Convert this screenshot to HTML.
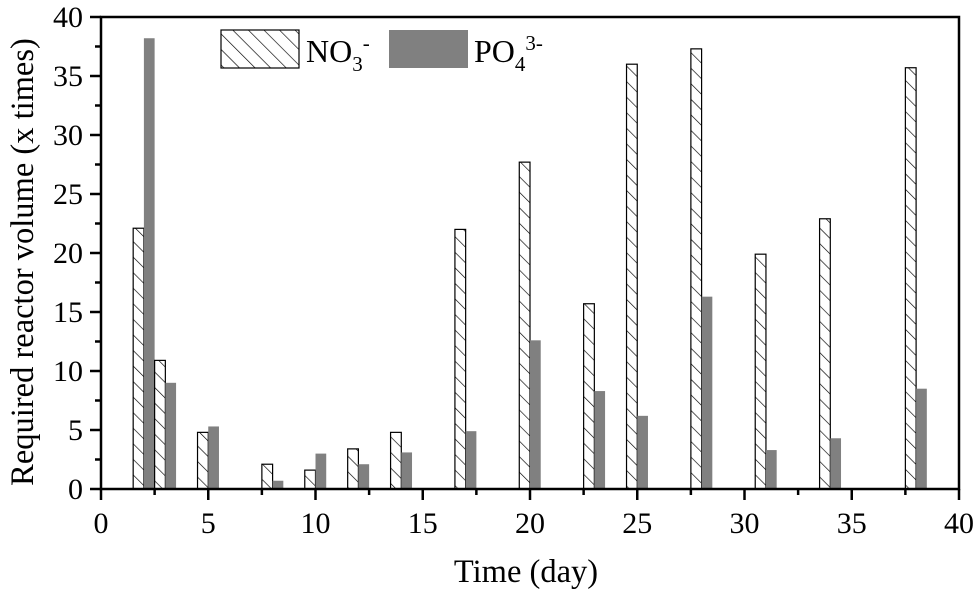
<!DOCTYPE html>
<html><head><meta charset="utf-8"><style>
html,body{margin:0;padding:0;background:#fff}
svg{display:block;font-family:"Liberation Serif",serif}
</style></head><body>
<svg id="chart" width="980" height="592" viewBox="0 0 980 592">
<defs>
<pattern id="hatch" patternUnits="userSpaceOnUse" width="11" height="11" patternTransform="rotate(-45)">
<line x1="0" y1="0" x2="0" y2="11" stroke="#000" stroke-width="1.3"/>
</pattern>
</defs>
<g id="bars"></g>
<g id="axes"></g>
<g>
<rect x="221" y="30" width="78" height="38" fill="url(#hatch)" stroke="#000" stroke-width="1.2"/>
<text x="306" y="62" font-size="32">NO<tspan font-size="21" dy="9">3</tspan><tspan font-size="21" dy="-21">-</tspan></text>
<rect x="389" y="30" width="79" height="38" fill="#808080"/>
<text x="474" y="62" font-size="32">PO<tspan font-size="21" dy="9">4</tspan><tspan font-size="21" dy="-21">3-</tspan></text>
</g>
<text x="526" y="582" text-anchor="middle" font-size="32.5">Time (day)</text>
<text transform="translate(33,262) rotate(-90)" text-anchor="middle" font-size="32.5">Required reactor volume (x times)</text>
</svg>
<script>
const days = [2, 3, 5, 8, 10, 12, 14, 17, 20, 23, 25, 28, 31, 34, 38];
const no3 = [22.1, 10.9, 4.8, 2.1, 1.6, 3.4, 4.8, 22.0, 27.7, 15.7, 36.0, 37.3, 19.9, 22.9, 35.7];
const po4 = [38.2, 9.0, 5.3, 0.7, 3.0, 2.1, 3.1, 4.9, 12.6, 8.3, 6.2, 16.3, 3.3, 4.3, 8.5];
const xTicks = [0, 5, 10, 15, 20, 25, 30, 35, 40];
const yTicks = [0, 5, 10, 15, 20, 25, 30, 35, 40];

const L = 101, R = 959, T = 17, B = 489;
const xs = d => L + (d / 40) * (R - L);
const ys = v => B - (v / 40) * (B - T);
const NS = "http://www.w3.org/2000/svg";
const bars = document.getElementById('bars');
const axes = document.getElementById('axes');
function mk(tag, attrs, parent) {
  const e = document.createElementNS(NS, tag);
  for (const k in attrs) e.setAttribute(k, attrs[k]);
  parent.appendChild(e);
  return e;
}
const bw = xs(0.5) - xs(0);
days.forEach((d, i) => {
  const a = mk('rect', {x: xs(d) - bw, y: ys(no3[i]), width: bw, height: B - ys(no3[i]), fill: 'url(#hatch)', stroke: '#000', 'stroke-width': 1.2}, bars);
  
  
  const b = mk('rect', {x: xs(d), y: ys(po4[i]), width: bw, height: B - ys(po4[i]), fill: '#808080'}, bars);
  
  
});
const frame = mk('rect', {x: L, y: T, width: R - L, height: B - T, fill: 'none', stroke: '#000', 'stroke-width': 2.5}, axes);


xTicks.forEach((t, i) => {
  mk('line', {x1: xs(t), x2: xs(t), y1: B, y2: B + 11, stroke: '#000', 'stroke-width': 2.5}, axes);
  if (i < xTicks.length - 1) mk('line', {x1: xs(t + 2.5), x2: xs(t + 2.5), y1: B, y2: B + 6, stroke: '#000', 'stroke-width': 2.5}, axes);
  const tx = mk('text', {x: xs(t), y: B + 44, 'text-anchor': 'middle', 'font-size': 30}, axes);
  tx.textContent = t;
  
  
});
yTicks.forEach((t, i) => {
  mk('line', {x1: L - 11, x2: L, y1: ys(t), y2: ys(t), stroke: '#000', 'stroke-width': 2.5}, axes);
  if (i < yTicks.length - 1) mk('line', {x1: L - 6, x2: L, y1: ys(t + 2.5), y2: ys(t + 2.5), stroke: '#000', 'stroke-width': 2.5}, axes);
  const tx = mk('text', {x: 83, y: ys(t) + 10, 'text-anchor': 'end', 'font-size': 30}, axes);
  tx.textContent = t;
  
  
});
</script>
</body></html>
